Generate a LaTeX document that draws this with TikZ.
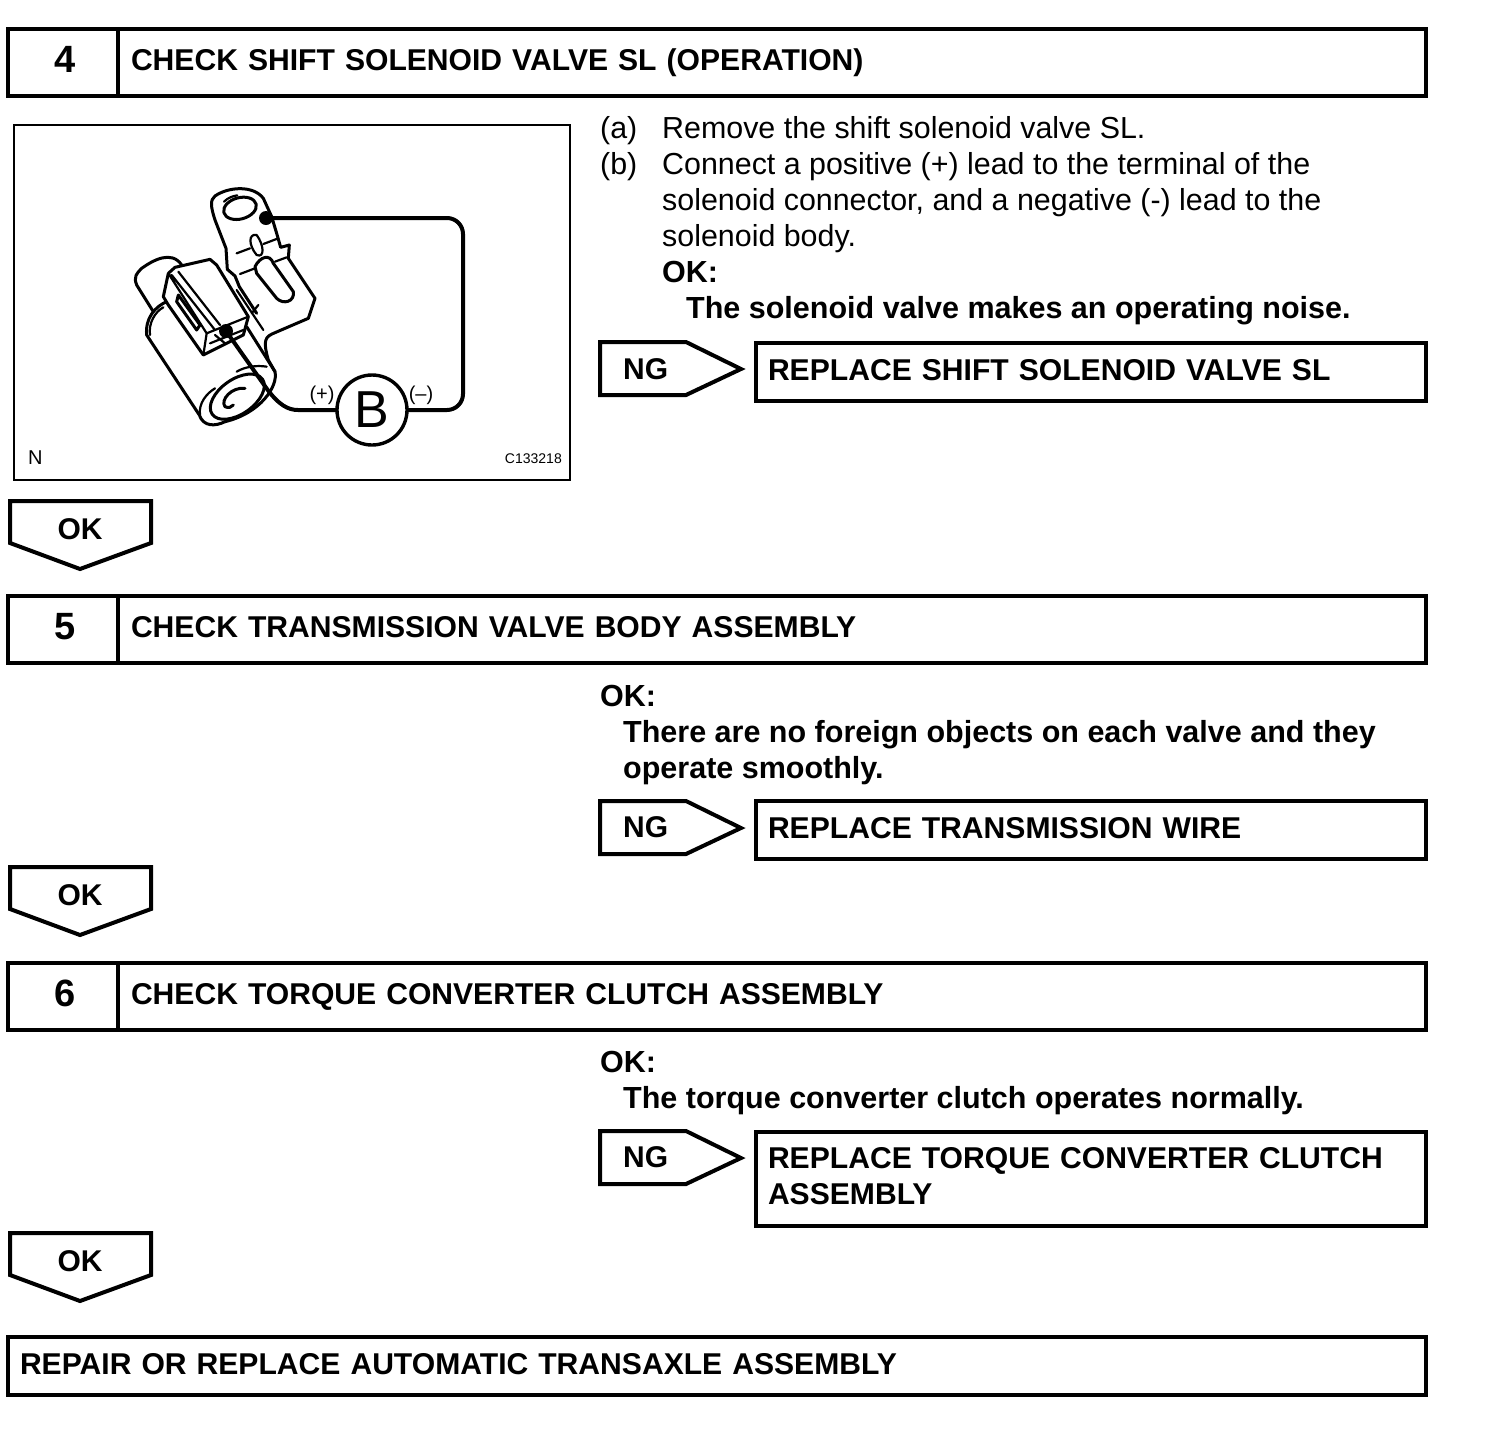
\documentclass[tikz,border=0pt]{standalone}
\usepackage{fontspec}
\setmainfont{Liberation Sans}
\usetikzlibrary{positioning}

\begin{document}
\begin{tikzpicture}[
  x=1pt, y=-1pt,
  stepnum/.style={draw, line width=4pt, outer sep=0pt, anchor=north west, minimum height=67pt, inner xsep=0pt, text width=110pt, align=center, font=\fontsize{38}{38}\selectfont\bfseries, text height=27pt, text depth=8pt, execute at begin node=\hspace*{4pt}},
  steptitle/.style={draw, line width=4pt, outer sep=0pt, minimum height=67pt, text width=1282pt, inner xsep=13pt, align=left, font=\fontsize{30.1}{36}\selectfont\bfseries, text height=22pt, text depth=6pt},
  resultbox/.style={draw, line width=4pt, outer sep=0pt, anchor=north west, text width=646pt, inner xsep=12pt, align=left, font=\fontsize{30.1}{36}\selectfont\bfseries, text height=22pt, text depth=6pt},
  bodytext/.style={anchor=base west, inner sep=0pt, align=left, font=\fontsize{30.4}{36}\selectfont},
  boldtext/.style={anchor=base west, inner sep=0pt, align=left, font=\fontsize{30.5}{36}\selectfont\bfseries},
  tagtext/.style={inner sep=0pt, font=\fontsize{30}{36}\selectfont\bfseries},
  tagline/.style={line width=4pt, miter limit=10},
  sketch/.style={line width=2.2pt, line join=round, line cap=round},
  sketchbold/.style={line width=3pt, line join=round, line cap=round},
  leadline/.style={line width=4pt}
]
\useasboundingbox (0,0) rectangle (1504,1444);

% step 4
\node[stepnum] (num4) at (8,29) {4};
\node[steptitle, right=0pt of num4] (title4) {CHECK SHIFT SOLENOID VALVE SL (OPERATION)};
\node[draw, line width=2pt, outer sep=0pt, anchor=north west, minimum width=556pt, minimum height=355pt] (frame4) at (14,125) {};
\node[anchor=base west, inner sep=0pt, font=\fontsize{20}{20}\selectfont] (frameN) at (28,464) {N};
\node[anchor=base east, inner sep=0pt, font=\fontsize{14}{14}\selectfont] (frameC) at (562,463) {C133218};

% solenoid sketch
\begin{scope}[shift={(100,170)}, scale=1/3]
  \draw[sketchbold] (345,78) .. controls (385,50) and (460,45) .. (490,85) -- (515,140) -- (530,190) -- (542,232) -- (568,225) -- (565,265) -- (645,385) -- (625,445) -- (525,488) .. controls (495,500) and (488,510) .. (505,570) -- (525,605);
  \draw[sketchbold] (345,78) .. controls (330,90) and (332,110) .. (345,150) -- (378,235) -- (382,298) -- (405,318) -- (418,350) -- (470,430);
  \draw[sketchbold, rotate around={15:(420,115)}] (420,115) ellipse [x radius=50, y radius=32];
  \draw[sketch] (372,95) .. controls (385,82) and (400,78) .. (412,76);
  \draw[sketch] (470,195) .. controls (445,190) and (445,225) .. (470,255) .. controls (495,265) and (492,225) .. (470,195);
  \draw[sketch] (410,250) -- (450,235) (490,222) -- (535,205) (420,312) -- (465,295) (525,275) -- (560,262);
  \draw[sketchbold] (465,290) .. controls (480,260) and (510,250) .. (520,280) -- (580,365) .. controls (585,395) and (550,405) .. (530,385) -- (470,310) -- (465,290);
  \draw[sketch] (410,360) -- (490,480) (455,430) -- (475,405);
  % coil body
  \draw[sketchbold] (200,395) .. controls (165,410) and (135,445) .. (140,495) -- (298,735) .. controls (310,770) and (345,770) .. (375,755);
  \draw[sketch] (150,495) .. controls (145,460) and (165,425) .. (190,412);
  \draw[sketchbold] (110,345) .. controls (100,320) and (110,310) .. (125,295) .. controls (160,270) and (215,240) .. (245,285);
  \draw[sketchbold] (110,345) -- (160,425);
  \draw[sketchbold] (440,470) -- (525,605) .. controls (535,650) and (480,730) .. (375,755);
  \draw[sketchbold, rotate around={35:(412,680)}] (412,680) ellipse [x radius=92, y radius=52];
  \draw[sketchbold] (435,655) .. controls (395,650) and (360,690) .. (375,710) .. controls (385,715) and (395,712) .. (400,705);
  \draw[sketch] (300,735) .. controls (295,700) and (320,670) .. (345,655);
  \draw[sketch] (410,605) .. controls (435,590) and (470,585) .. (500,590);
  % connector
  \draw[sketchbold, fill=white] (205,310) -- (225,292) -- (330,268) -- (350,285) -- (445,440) -- (430,495) -- (340,540) -- (310,555) -- (205,405) -- (190,380) -- (205,310);
  \draw[sketch] (215,315) -- (345,480) (235,305) -- (360,465) (205,310) -- (320,490) -- (310,555) (320,490) -- (445,440);
  \draw[sketchbold] (235,375) -- (300,465) -- (290,480) -- (230,395) -- (235,375);
  \draw[sketch] (330,520) -- (430,480) (345,495) -- (375,520);
\end{scope}

% meter and leads
\node[draw, circle, line width=3.4pt, outer sep=0pt, minimum size=70pt, inner sep=0pt, font=\fontsize{52}{52}\selectfont] (meter) at (372,410) {B};
\coordinate (posdot) at (226,331);
\coordinate (negdot) at (266,218);
\fill (posdot) circle (7);
\fill (negdot) circle (7);
\draw[leadline] (posdot) -- (267,389) .. controls (279,405) and (288,410) .. (298,410) -- (meter.west);
\draw[leadline, rounded corners=16pt] (negdot) -- (463,218) -- (463,410) -- (meter.east);
\node[inner sep=0pt, font=\fontsize{20}{20}\selectfont] (plus) at (322,395) {(+)};
\node[inner sep=0pt, font=\fontsize{20}{20}\selectfont] (minus) at (421,395) {(--)};

\node[bodytext] (a4) at (600,138) {(a)};
\node[bodytext] (a4t) at (662,138) {Remove the shift solenoid valve SL.};
\node[bodytext] (b4) at (600,174) {(b)};
\node[bodytext] (b4t) at (662,246) {Connect a positive (+) lead to the terminal of the\\solenoid connector, and a negative (-) lead to the\\solenoid body.};
\node[boldtext] (ok4) at (662,282) {OK:};
\node[boldtext] (ok4t) at (686,318) {The solenoid valve makes an operating noise.};

\draw[tagline] (600,342) -- (686,342) -- (741,369) -- (686,395) -- (600,395) -- cycle;
\node[tagtext, anchor=base west] (ng4) at (623,379) {NG};
\node[resultbox, minimum height=58pt] (fix4) at (756,343) {REPLACE SHIFT SOLENOID VALVE SL};

\draw[tagline] (10,501) -- (151,501) -- (151,543) -- (80,569) -- (10,543) -- cycle;
\node[tagtext, anchor=base] (pass4) at (80,539) {OK};

% step 5
\node[stepnum] (num5) at (8,596) {5};
\node[steptitle, right=0pt of num5] (title5) {CHECK TRANSMISSION VALVE BODY ASSEMBLY};
\node[boldtext] (ok5) at (600,706) {OK:};
\node[boldtext] (ok5t) at (623,778) {There are no foreign objects on each valve and they\\operate smoothly.};

\draw[tagline] (600,801) -- (686,801) -- (741,828) -- (686,854) -- (600,854) -- cycle;
\node[tagtext, anchor=base west] (ng5) at (623,837) {NG};
\node[resultbox, minimum height=58pt] (fix5) at (756,801) {REPLACE TRANSMISSION WIRE};

\draw[tagline] (10,867) -- (151,867) -- (151,909) -- (80,935) -- (10,909) -- cycle;
\node[tagtext, anchor=base] (pass5) at (80,905) {OK};

% step 6
\node[stepnum] (num6) at (8,963) {6};
\node[steptitle, right=0pt of num6] (title6) {CHECK TORQUE CONVERTER CLUTCH ASSEMBLY};
\node[boldtext] (ok6) at (600,1072) {OK:};
\node[boldtext] (ok6t) at (623,1108) {The torque converter clutch operates normally.};

\draw[tagline] (600,1131) -- (686,1131) -- (741,1158) -- (686,1184) -- (600,1184) -- cycle;
\node[tagtext, anchor=base west] (ng6) at (623,1167) {NG};
\node[resultbox, minimum height=94pt, text height=20pt, text depth=42pt] (fix6) at (756,1132) {REPLACE TORQUE CONVERTER CLUTCH\\ASSEMBLY};

\draw[tagline] (10,1233) -- (151,1233) -- (151,1275) -- (80,1301) -- (10,1275) -- cycle;
\node[tagtext, anchor=base] (pass6) at (80,1271) {OK};

% last box
\node[resultbox, minimum height=58pt, text width=1394pt] (last) at (8,1337) {REPAIR OR REPLACE AUTOMATIC TRANSAXLE ASSEMBLY};
\end{tikzpicture}
\end{document}
